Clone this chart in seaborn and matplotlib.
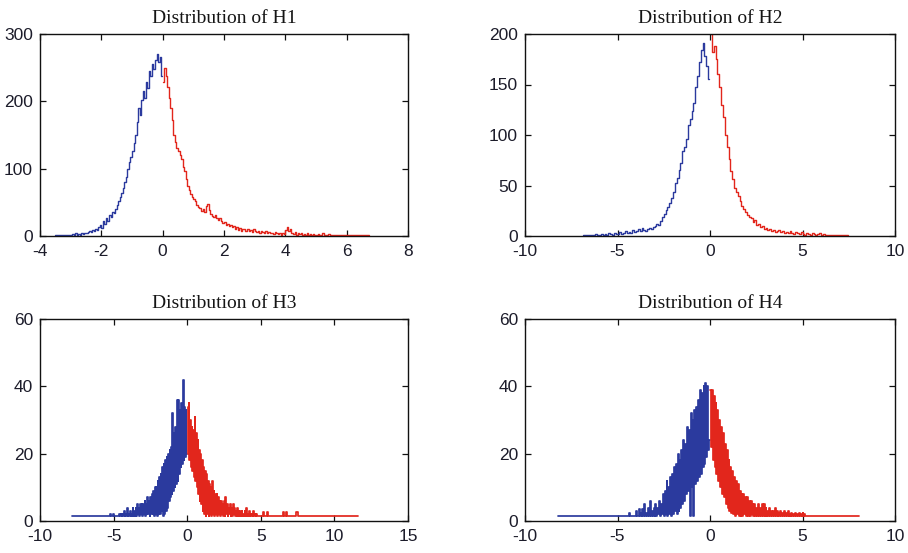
import numpy as np
import matplotlib
matplotlib.use("Agg")
import matplotlib.pyplot as plt
import seaborn as sns

# ---------------- data (bin counts) ----------------
BIN_H1 = 0.05
h1_neg_start = -3.525
h1_neg = [1, 1, 1, 1, 1, 1, 2, 1, 1, 2,
          1, 2, 3, 1, 5, 2, 3, 2, 4, 3,
          5, 4, 6, 7, 6, 9, 8, 11, 9, 13,
          16, 12, 22, 18, 26, 22, 31, 28, 36, 34,
          40, 46, 52, 58, 64, 72, 80, 88, 100, 110,
          118, 126, 138, 150, 170, 190, 180, 202, 215, 205,
          228, 220, 245, 238, 255, 248, 262, 270, 258, 266,
          238]
h1_pos_start = 0.025
h1_pos = [228, 250, 238, 222, 205, 190, 172, 150, 140, 130,
          126, 120, 114, 102, 96, 84, 74, 68, 63, 58,
          55, 52, 46, 43, 41, 37, 40, 35, 44, 48,
          38, 33, 30, 28, 31, 26, 24, 26, 22, 20,
          21, 17, 18, 15, 16, 13, 15, 10, 13, 9,
          12, 8, 11, 10, 7, 11, 8, 9, 6, 10,
          7, 6, 8, 5, 7, 6, 4, 7, 5, 6,
          4, 5, 3, 6, 4, 3, 5, 2, 4, 3,
          9, 14, 8, 11, 5, 3, 6, 2, 4, 3,
          5, 2, 3, 1, 4, 2, 3, 1, 3, 2,
          1, 3, 2, 1, 4, 1, 2, 1, 3, 1,
          2, 1, 1, 2, 1, 1, 1, 2, 1, 1,
          1, 1, 1, 1, 1, 1, 1, 1, 1, 1,
          1, 1, 1, 1, 1]

BIN_H2 = 0.1
h2_neg_start = -6.85
h2_neg = [1, 1, 1, 1, 1, 1, 1, 2, 1, 1,
          2, 1, 2, 1, 3, 2, 1, 3, 2, 2,
          4, 2, 3, 5, 3, 4, 3, 6, 4, 5,
          7, 5, 8, 6, 5, 7, 8, 7, 9, 10,
          12, 11, 15, 19, 22, 26, 29, 33, 38, 44,
          52, 57, 65, 72, 84, 88, 96, 110, 116, 124,
          132, 148, 158, 172, 184, 191, 178, 168, 155]
h2_pos_start = 0.05
h2_pos = [200, 182, 188, 175, 160, 148, 130, 118, 100, 88,
          76, 64, 56, 48, 44, 40, 35, 30, 27, 24,
          21, 19, 18, 14, 16, 11, 12, 9, 10, 7,
          8, 6, 7, 5, 6, 4, 5, 6, 4, 5,
          3, 4, 3, 5, 3, 2, 4, 3, 2, 4,
          2, 1, 3, 2, 1, 3, 2, 1, 2, 3,
          1, 2, 1, 1, 1, 1, 1, 1, 1, 1,
          1, 1, 1, 1, 1]

BIN_H34 = 0.05
h3_neg_tail_x = [-7.85, -5.3, -5.2, -5.1, -5.0, -4.9, -4.8, -4.7, -4.6, -4.525]
h3_neg_tail_y = [1.4, 1.4, 2.2, 1.4, 2.2, 1.4, 1.4, 1.4, 2.0, 1.4]
h3_neg_start = -4.475
h3_neg = [2, 1.4, 2, 1.4, 3, 1.4, 2, 1.4, 4, 1.4,
          2, 1.4, 3, 1.4, 2, 1.4, 4, 1.4, 3, 1.4,
          4, 1.4, 5, 2, 4, 1.4, 5, 2, 5, 1.4,
          5, 2, 6, 1.4, 5, 2, 7, 2, 6, 1.4,
          7, 2, 8, 2, 9, 1.4, 10, 2, 10, 1.4,
          12, 2, 13, 2, 14, 3, 16, 1.4, 17, 2,
          18, 3, 19, 4, 20, 6, 21, 7, 22, 8,
          32, 9, 26, 10, 28, 11, 36, 12, 36, 14,
          33, 16, 35, 17, 42, 18, 34, 19, 33, 20]
h3_pos_start = 0.025
h3_pos = [34, 20, 35, 18, 30, 16, 28, 15, 27, 13,
          31, 12, 26, 10, 24, 8, 21, 6, 20, 5,
          18, 3, 16, 2, 15, 1.4, 14, 2, 12, 1.4,
          11, 2, 10, 1.4, 12, 2, 9, 1.4, 8, 2,
          8, 1.4, 7, 2, 6, 1.4, 6, 2, 5, 1.4,
          6, 1.4, 7, 2, 5, 1.4, 4, 2, 5, 1.4,
          4, 1.4, 5, 2, 4, 1.4, 3, 1.4, 4, 1.4,
          3, 1.4, 3, 1.4, 3, 1.4, 2, 1.4, 3, 1.4,
          4, 1.4, 2, 1.4, 3, 1.4, 2, 1.4, 2, 1.4,
          3, 1.4, 2, 1.4, 2, 1.4]
h3_pos_tail_x = [4.825, 5.1, 5.2, 5.3, 5.35, 5.45, 5.55, 6.45, 6.55, 6.65, 6.75, 6.85,
                 7.35, 7.45, 7.55, 11.6]
h3_pos_tail_y = [1.4, 1.4, 2.8, 1.4, 1.4, 2.6, 1.4, 1.4, 2.8, 1.4, 2.6, 1.4,
                 1.4, 2.8, 1.4, 1.4]

h4_neg_tail_x = [-8.2, -4.525]
h4_neg_tail_y = [1.4, 1.4]
h4_neg_start = -4.475
h4_neg = [1.4, 1.4, 2.5, 1.4, 1.4, 1.4, 1.4, 1.4, 1.4, 1.4,
          3, 1.4, 1.4, 3.5, 1.4, 2.5, 1.4, 3.5, 1.4, 5,
          1.4, 2.5, 1.4, 4, 1.4, 6, 1.4, 3, 1.4, 4,
          1.4, 5, 1.4, 4, 2, 6, 1.4, 5, 2, 8,
          1.4, 9, 2, 12, 1.4, 10, 2, 13, 1.4, 14,
          2, 16, 3, 17, 2, 20, 3, 18, 4, 21,
          5, 24, 6, 23, 8, 28, 9, 27, 1.4, 32,
          10, 30, 1.4, 33, 11, 34, 12, 36, 13, 39,
          14, 38, 16, 40, 17, 41, 19, 40, 21, 24]
h4_pos_start = 0.025
h4_pos = [39, 22, 39, 18, 37, 16, 35, 14, 33, 12,
          30, 10, 28, 8, 26, 7, 23, 5, 21, 4,
          18, 3, 16, 2.5, 15, 2, 13, 1.4, 12, 2,
          11, 1.4, 9, 1.4, 8, 1.4, 8, 2, 7, 1.4,
          7, 1.4, 6, 1.4, 6, 2, 5, 1.4, 5, 1.4,
          4, 1.4, 5, 1.4, 4, 1.4, 5, 1.4, 5, 1.4,
          4, 1.4, 3, 1.4, 4, 1.4, 3, 1.4, 3, 1.4,
          4, 1.4, 3, 1.4, 2.5, 1.4, 3, 1.4, 2.5, 1.4,
          3, 1.4, 2.5, 1.4, 3, 1.4, 2, 1.4, 2.5, 1.4,
          2, 1.4, 2.5, 1.4, 2, 1.4, 2.5, 1.4, 2, 1.4,
          2.5, 1.4, 2]
h4_pos_tail_x = [5.175, 8.05]
h4_pos_tail_y = [1.4, 1.4]

titles = ["Distribution of H1", "Distribution of H2", "Distribution of H3", "Distribution of H4"]
xlims = [(-4, 8), (-10, 10), (-10, 15), (-10, 10)]
xticks = [[-4, -2, 0, 2, 4, 6, 8], [-10, -5, 0, 5, 10], [-10, -5, 0, 5, 10, 15], [-10, -5, 0, 5, 10]]
ylims = [(0, 300), (0, 200), (0, 60), (0, 60)]
yticks = [[0, 100, 200, 300], [0, 50, 100, 150, 200], [0, 20, 40, 60], [0, 20, 40, 60]]

BLUE = "#2b3a9e"
RED = "#e2261c"

# ---------------- style ----------------
sns.set_theme(style="white")
plt.rcParams.update({
    "font.family": ["Liberation Sans", "DejaVu Sans"],
    "axes.unicode_minus": False,
    "axes.edgecolor": "#111111",
    "axes.linewidth": 1.0,
    "xtick.direction": "in", "ytick.direction": "in",
    "xtick.top": True, "ytick.right": True,
    "xtick.bottom": True, "ytick.left": True,
    "xtick.major.size": 4, "ytick.major.size": 4,
    "xtick.major.width": 0.9, "ytick.major.width": 0.9,
    "xtick.color": "#111111", "ytick.color": "#111111",
    "xtick.labelcolor": "#1c1c2a", "ytick.labelcolor": "#1c1c2a",
    "xtick.labelsize": 12.5, "ytick.labelsize": 12.5,
    "xtick.major.pad": 6, "ytick.major.pad": 5,
})


def centers(start, step, counts):
    return start + step * np.arange(len(counts))


def series(tail_l_x, tail_l_y, start, step, counts, tail_r_x, tail_r_y):
    x = np.concatenate([np.asarray(tail_l_x, float), centers(start, step, counts), np.asarray(tail_r_x, float)])
    y = np.concatenate([np.asarray(tail_l_y, float), np.asarray(counts, float), np.asarray(tail_r_y, float)])
    return x, y


panels = [
    [series([], [], h1_neg_start, BIN_H1, h1_neg, [], []),
     series([], [], h1_pos_start, BIN_H1, h1_pos, [], [])],
    [series([], [], h2_neg_start, BIN_H2, h2_neg, [], []),
     series([], [], h2_pos_start, BIN_H2, h2_pos, [], [])],
    [series(h3_neg_tail_x, h3_neg_tail_y, h3_neg_start, BIN_H34, h3_neg, [], []),
     series([], [], h3_pos_start, BIN_H34, h3_pos, h3_pos_tail_x, h3_pos_tail_y)],
    [series(h4_neg_tail_x, h4_neg_tail_y, h4_neg_start, BIN_H34, h4_neg, [], []),
     series([], [], h4_pos_start, BIN_H34, h4_pos, h4_pos_tail_x, h4_pos_tail_y)],
]
line_widths = [1.0, 1.0, 1.25, 1.25]

W, H = 908, 553
boxes = [(40, 34, 408, 236), (525, 34, 895, 236), (40, 319, 408, 521), (525, 319, 895, 521)]

fig = plt.figure(figsize=(W / 100, H / 100), dpi=100)
fig.patch.set_facecolor("white")

for i, (l, t, r, b) in enumerate(boxes):
    ax = fig.add_axes([l / W, (H - b) / H, (r - l) / W, (b - t) / H])
    ax.set_facecolor("white")
    (xn, yn), (xp, yp) = panels[i]
    sns.lineplot(x=xn, y=yn, ax=ax, color=BLUE, linewidth=line_widths[i], drawstyle="steps-mid",
                 estimator=None, sort=False, legend=False)
    sns.lineplot(x=xp, y=yp, ax=ax, color=RED, linewidth=line_widths[i], drawstyle="steps-mid",
                 estimator=None, sort=False, legend=False)
    ax.set_xlim(*xlims[i])
    ax.set_ylim(*ylims[i])
    ax.set_xticks(xticks[i])
    ax.set_yticks(yticks[i])
    ax.set_xlabel("")
    ax.set_ylabel("")
    for s in ax.spines.values():
        s.set_visible(True)
        s.set_color("#111111")
    ax.set_title(titles[i], family=["Liberation Serif", "DejaVu Serif"], fontsize=14,
                 color="#151515", pad=8)

fig.savefig("out.png", dpi=100)
